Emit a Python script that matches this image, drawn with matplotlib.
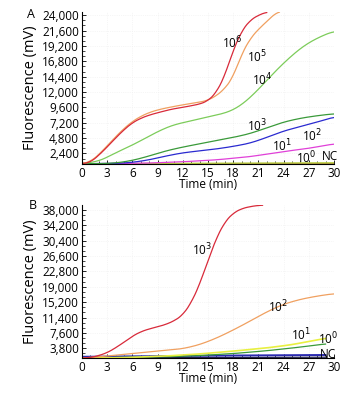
import numpy as np
import matplotlib.pyplot as plt
from matplotlib.ticker import FuncFormatter, MultipleLocator

plt.rcParams['font.family'] = ['Open Sans', 'DejaVu Sans']

# ---- panel A data (time in min, fluorescence in mV)
a_red_x = [0, 1, 2, 3, 4, 5, 6, 7, 8, 9, 10, 11, 12, 13, 14, 15, 16, 17, 18, 19, 20, 21, 22]
a_red_y = [800, 1000, 2100, 3400, 4800, 6100, 7200, 7900, 8400, 8750, 9100, 9400, 9600, 9850,
           10100, 10600, 11900, 14500, 18500, 21500, 23200, 24000, 24500]
a_org_x = [0, 1, 2, 3, 4, 5, 6, 7, 8, 9, 10, 11, 12, 13, 14, 15, 16, 17, 18, 19, 20, 21, 22, 23, 23.5]
a_org_y = [800, 1100, 2200, 3600, 5000, 6300, 7400, 8200, 8800, 9200, 9500, 9750, 10000, 10200,
           10400, 10700, 11400, 12500, 14300, 17900, 20300, 21800, 23000, 24300, 24600]
a_x = list(range(0, 31))
a_lg_y = [800, 1000, 1200, 1800, 2500, 3100, 3700, 4400, 5100, 5800, 6400, 6900, 7200, 7500, 7800,
          8100, 8400, 8700, 9200, 10000, 11100, 12400, 13800, 15200, 16500, 17700, 18800, 19700,
          20400, 21000, 21500]
a_dg_x = [0, 2, 4, 6, 8, 10, 12, 14, 16, 18, 20, 22, 24, 26, 28, 30]
a_dg_y = [800, 800, 900, 1300, 2000, 2800, 3400, 3900, 4400, 4900, 5500, 6400, 7300, 7900, 8300, 8600]
a_bl_x = [0, 4, 6, 8, 10, 12, 14, 16, 18, 20, 22, 24, 26, 28, 30]
a_bl_y = [800, 850, 1000, 1400, 2000, 2500, 2800, 3100, 3500, 4000, 4900, 5900, 6600, 7300, 8100]
a_mg_x = [0, 4, 8, 12, 16, 20, 24, 27, 30]
a_mg_y = [800, 820, 900, 1100, 1400, 1900, 2700, 3200, 3900]
a_c0_x = [0, 10, 20, 30]
a_c0_y = [800, 850, 900, 950]
a_nc_x = [0, 10, 20, 30]
a_nc_y = [800, 800, 810, 820]

# ---- panel B data
b_red_x = [0, 1, 2, 3, 4, 5, 6, 7, 8, 9, 10, 11, 12, 13, 14, 15, 16, 17, 18, 19, 20, 21, 21.5]
b_red_y = [1400, 1500, 2000, 2700, 3900, 5300, 6800, 7900, 8600, 9100, 9700, 10600, 12000, 15000,
           19500, 25500, 31000, 35000, 37200, 38300, 38800, 39100, 39150]
b_org_x = [0, 2, 4, 6, 8, 10, 12, 14, 16, 18, 20, 22, 24, 26, 28, 30]
b_org_y = [1400, 1700, 2100, 2500, 2900, 3300, 3700, 4700, 6300, 8300, 10500, 12800, 14700, 15900,
           16700, 17300]
b_yel_x = [0, 5, 10, 14, 18, 22, 25, 28, 29]
b_yel_y = [1400, 1500, 1900, 2400, 3100, 3900, 4700, 5900, 6300]
b_grn_x = [0, 10, 14, 18, 22, 26, 29]
b_grn_y = [1400, 1700, 2000, 2500, 3200, 4100, 4900]
b_blu_x = [0, 10, 20, 29]
b_blu_y = [1700, 1900, 2050, 2150]
b_dk_x = [0, 10, 20, 29]
b_dk_y = [1450, 1500, 1550, 1600]

fig = plt.figure(figsize=(3.61, 3.93), dpi=100)
axA = fig.add_axes([0.227, 0.583, 0.698, 0.386])
axB = fig.add_axes([0.227, 0.089, 0.698, 0.389])


def smooth(ax, x, y, color, lw=0.9):
    xs = np.linspace(x[0], x[-1], 300)
    ys = np.interp(xs, x, y)
    k = 9
    ys = np.convolve(np.pad(ys, k, mode='edge'), np.ones(2 * k + 1) / (2 * k + 1), mode='same')[k:-k]
    ax.plot(xs, ys, color=color, lw=lw, clip_on=True)


fmt = FuncFormatter(lambda v, p: f"{int(round(v)):,}")

for ax in (axA, axB):
    for s in ('top', 'right'):
        ax.spines[s].set_visible(False)
    ax.spines['left'].set_linewidth(0.8)
    ax.spines['bottom'].set_linewidth(0.8)
    ax.set_xlim(0, 30)
    ax.xaxis.set_major_locator(MultipleLocator(3))
    ax.xaxis.set_minor_locator(MultipleLocator(1))
    ax.tick_params(which='both', direction='in', labelsize=8.5, pad=2)
    ax.tick_params(which='major', length=3, width=0.6)
    ax.tick_params(which='minor', length=2, width=0.5)
    ax.yaxis.set_major_formatter(fmt)
    ax.grid(True, color='#eeeeee', lw=0.5, ls=':')
    ax.set_xlabel('Time (min)', fontsize=8.5, labelpad=-1)
    ax.set_ylabel('Fluorescence (mV)', fontsize=10.5, labelpad=3)

# panel A
axA.set_ylim(770, 24470)
axA.set_yticks(np.arange(2400, 24001, 2400))
axA.yaxis.set_minor_locator(MultipleLocator(800))
smooth(axA, a_nc_x, a_nc_y, '#b08a3c')
smooth(axA, a_c0_x, a_c0_y, '#b8d040')
smooth(axA, a_mg_x, a_mg_y, '#e040d8')
smooth(axA, a_bl_x, a_bl_y, '#2a2ad0')
smooth(axA, a_dg_x, a_dg_y, '#3a9a3a')
smooth(axA, a_x, a_lg_y, '#7ccc5a')
smooth(axA, a_org_x, a_org_y, '#f0a060')
smooth(axA, a_red_x, a_red_y, '#d82a3a')

labA = [('10$^6$', 17.9, 19650), ('10$^5$', 20.8, 17460), ('10$^4$', 21.5, 13870),
        ('10$^3$', 20.8, 6700), ('10$^2$', 27.4, 5140), ('10$^1$', 23.8, 3580),
        ('10$^0$', 26.7, 1700), ('NC', 29.5, 1860)]
for t, x, y in labA:
    axA.text(x, y, t, fontsize=8.5, ha='center', va='center')
fig.text(0.086, 0.962, 'A', fontsize=9, ha='center', va='center')

# panel B
axB.set_ylim(1400, 39160)
axB.set_yticks(np.arange(3800, 38001, 3800))
axB.yaxis.set_minor_locator(MultipleLocator(1266.67))
smooth(axB, b_dk_x, b_dk_y, '#202050')
smooth(axB, b_blu_x, b_blu_y, '#2a2ab0', lw=1.4)
smooth(axB, b_grn_x, b_grn_y, '#3a9a3a')
smooth(axB, b_yel_x, b_yel_y, '#e8f040', lw=1.2)
smooth(axB, b_org_x, b_org_y, '#f0a060')
smooth(axB, b_red_x, b_red_y, '#d82a3a')

labB = [('10$^3$', 14.3, 28040), ('10$^2$', 23.3, 13980), ('10$^1$', 26.1, 7070),
        ('10$^0$', 29.3, 6000), ('NC', 29.3, 2200)]
for t, x, y in labB:
    axB.text(x, y, t, fontsize=8.5, ha='center', va='center')
fig.text(0.091, 0.478, 'B', fontsize=9, ha='center', va='center')

fig.savefig('out.png', dpi=100)
